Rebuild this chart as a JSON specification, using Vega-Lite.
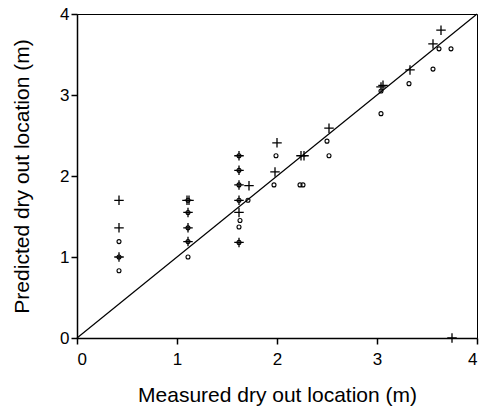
{
  "$schema": "https://vega.github.io/schema/vega-lite/v6.json",
  "width": 400,
  "height": 324,
  "autosize": {"type": "none"},
  "padding": {"left": 77, "top": 14, "right": 7, "bottom": 70},
  "background": "white",
  "config": {
    "view": {"stroke": "black", "strokeWidth": 1},
    "axis": {
      "grid": false,
      "domainColor": "black",
      "domainWidth": 1.5,
      "tickColor": "black",
      "tickWidth": 1.5,
      "tickSize": 6,
      "labelFont": "Liberation Sans",
      "labelFontSize": 17,
      "labelColor": "black",
      "titleFont": "Liberation Sans",
      "titleFontSize": 21,
      "titleFontWeight": "normal",
      "titleColor": "black"
    }
  },
  "encoding": {
    "x": {
      "field": "x",
      "type": "quantitative",
      "scale": {"domain": [0, 4], "nice": false},
      "axis": {"values": [0, 1, 2, 3, 4], "labelPadding": 7, "title": "Measured dry out location (m)", "titleBaseline": "alphabetic", "titleY": 63}
    },
    "y": {
      "field": "y",
      "type": "quantitative",
      "scale": {"domain": [0, 4], "nice": false},
      "axis": {"values": [0, 1, 2, 3, 4], "labelPadding": 2, "title": "Predicted dry out location (m)", "titleX": -45}
    }
  },
  "layer": [
    {
      "data": {"values": [{"x": 0, "y": 0}, {"x": 4, "y": 4}]},
      "mark": {"type": "line", "color": "black", "strokeWidth": 1.2}
    },
    {
      "data": {"values": [
        {"x": 0.42, "y": 1.70, "s": "plus"},
        {"x": 0.42, "y": 1.36, "s": "plus"},
        {"x": 0.42, "y": 1.00, "s": "plus"},
        {"x": 1.10, "y": 1.70, "s": "plus"},
        {"x": 1.12, "y": 1.70, "s": "plus"},
        {"x": 1.11, "y": 1.55, "s": "plus"},
        {"x": 1.11, "y": 1.36, "s": "plus"},
        {"x": 1.11, "y": 1.19, "s": "plus"},
        {"x": 1.62, "y": 2.25, "s": "plus"},
        {"x": 1.62, "y": 2.07, "s": "plus"},
        {"x": 1.62, "y": 1.89, "s": "plus"},
        {"x": 1.72, "y": 1.88, "s": "plus"},
        {"x": 1.62, "y": 1.70, "s": "plus"},
        {"x": 1.62, "y": 1.55, "s": "plus"},
        {"x": 1.62, "y": 1.18, "s": "plus"},
        {"x": 2.00, "y": 2.41, "s": "plus"},
        {"x": 1.98, "y": 2.05, "s": "plus"},
        {"x": 2.24, "y": 2.25, "s": "plus"},
        {"x": 2.27, "y": 2.25, "s": "plus"},
        {"x": 2.52, "y": 2.59, "s": "plus"},
        {"x": 3.04, "y": 3.10, "s": "plus"},
        {"x": 3.06, "y": 3.12, "s": "plus"},
        {"x": 3.33, "y": 3.31, "s": "plus"},
        {"x": 3.56, "y": 3.63, "s": "plus"},
        {"x": 3.64, "y": 3.80, "s": "plus"},
        {"x": 3.75, "y": 0.00, "s": "plus"},
        {"x": 0.42, "y": 1.19, "s": "circle"},
        {"x": 0.42, "y": 1.00, "s": "circle"},
        {"x": 0.42, "y": 0.83, "s": "circle"},
        {"x": 1.11, "y": 1.70, "s": "circle"},
        {"x": 1.11, "y": 1.55, "s": "circle"},
        {"x": 1.11, "y": 1.36, "s": "circle"},
        {"x": 1.11, "y": 1.19, "s": "circle"},
        {"x": 1.11, "y": 1.00, "s": "circle"},
        {"x": 1.62, "y": 2.25, "s": "circle"},
        {"x": 1.62, "y": 2.07, "s": "circle"},
        {"x": 1.62, "y": 1.89, "s": "circle"},
        {"x": 1.62, "y": 1.70, "s": "circle"},
        {"x": 1.71, "y": 1.70, "s": "circle"},
        {"x": 1.63, "y": 1.45, "s": "circle"},
        {"x": 1.62, "y": 1.37, "s": "circle"},
        {"x": 1.62, "y": 1.18, "s": "circle"},
        {"x": 1.99, "y": 2.25, "s": "circle"},
        {"x": 1.97, "y": 1.89, "s": "circle"},
        {"x": 2.23, "y": 1.89, "s": "circle"},
        {"x": 2.26, "y": 1.89, "s": "circle"},
        {"x": 2.50, "y": 2.43, "s": "circle"},
        {"x": 2.52, "y": 2.25, "s": "circle"},
        {"x": 3.04, "y": 3.05, "s": "circle"},
        {"x": 3.04, "y": 2.77, "s": "circle"},
        {"x": 3.32, "y": 3.14, "s": "circle"},
        {"x": 3.56, "y": 3.32, "s": "circle"},
        {"x": 3.62, "y": 3.57, "s": "circle"},
        {"x": 3.74, "y": 3.57, "s": "circle"}
      ]},
      "mark": {"type": "point", "filled": false, "stroke": "black", "opacity": 1},
      "encoding": {
        "shape": {
          "field": "s",
          "type": "nominal",
          "scale": {"domain": ["plus", "circle"], "range": ["M-1,0H1M0,-1V1", "circle"]},
          "legend": null
        },
        "size": {
          "field": "s",
          "type": "nominal",
          "scale": {"domain": ["plus", "circle"], "range": [90, 16]},
          "legend": null
        },
        "strokeWidth": {
          "field": "s",
          "type": "nominal",
          "scale": {"domain": ["plus", "circle"], "range": [1.3, 1.1]},
          "legend": null
        }
      }
    }
  ]
}
